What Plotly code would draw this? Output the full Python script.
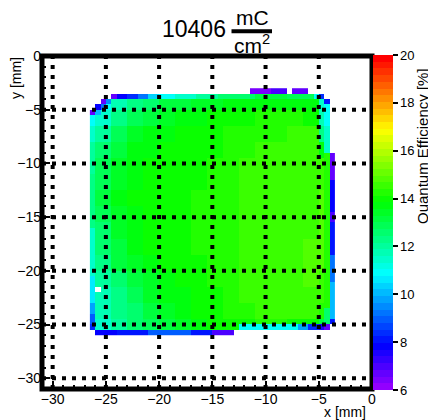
import numpy as np
import plotly.graph_objects as go
import colorsys

# ---------------- data ----------------
charge_value = "10406"
x_ticks = [-30, -25, -20, -15, -10, -5, 0]
y_ticks = [-30, -25, -20, -15, -10, -5, 0]
grid_x = [-30, -25, -20, -15, -10, -5]
grid_y = [-30, -25, -20, -15, -10, -5]
cbar_ticks = [6, 8, 10, 12, 14, 16, 18, 20]

# scan body: 1.5 mm blocks, x from -26.0 to -3.5 (15 cols), rows from y=-3.5 down to -26.0 (15 rows)
body_x0, body_y0, body_step = -26.0, -3.5, 1.5
body = [
    [11.0, 11.7, 12.3, 12.7, 13.0, 13.2, 13.4, 13.5, 13.6, 13.7, 13.8, 13.8, 13.8, 13.7, 11.5],
    [11.5, 12.2, 12.8, 13.2, 13.5, 13.7, 13.8, 13.9, 14.0, 14.1, 14.2, 14.2, 14.2, 14.1, 11.8],
    [12.1, 12.8, 13.3, 13.6, 13.8, 13.9, 14.0, 14.1, 14.2, 14.3, 14.3, 14.3, 14.4, 14.4, 12.3],
    [12.5, 13.2, 13.6, 13.8, 13.9, 14.0, 14.0, 14.1, 14.2, 14.3, 14.4, 14.4, 14.5, 14.5, 13.8],
    [12.8, 13.4, 13.7, 13.9, 14.0, 14.0, 14.1, 14.2, 14.3, 14.4, 14.4, 14.5, 14.5, 14.6, 14.6],
    [12.9, 13.5, 13.8, 13.9, 14.0, 14.1, 14.1, 14.2, 14.3, 14.4, 14.4, 14.5, 14.6, 14.6, 14.6],
    [13.0, 13.6, 13.9, 14.0, 14.0, 14.1, 14.2, 14.2, 14.3, 14.4, 14.5, 14.5, 14.6, 14.6, 14.7],
    [12.9, 13.5, 13.8, 14.0, 14.1, 14.1, 14.2, 14.2, 14.3, 14.4, 14.5, 14.5, 14.6, 14.6, 14.7],
    [12.7, 13.4, 13.8, 13.9, 14.0, 14.1, 14.2, 14.2, 14.3, 14.4, 14.5, 14.5, 14.6, 14.6, 14.7],
    [12.5, 13.2, 13.7, 13.9, 14.0, 14.1, 14.2, 14.2, 14.3, 14.4, 14.5, 14.6, 14.6, 14.7, 14.7],
    [12.3, 13.0, 13.5, 13.8, 13.9, 14.0, 14.1, 14.2, 14.3, 14.4, 14.5, 14.6, 14.6, 14.7, 14.7],
    [12.0, 12.7, 13.2, 13.5, 13.8, 13.9, 14.0, 14.2, 14.3, 14.4, 14.5, 14.6, 14.6, 14.7, 14.6],
    [11.8, 12.4, 12.9, 13.3, 13.6, 13.8, 14.0, 14.1, 14.3, 14.4, 14.5, 14.6, 14.6, 14.6, 14.5],
    [11.7, 12.2, 12.7, 13.1, 13.4, 13.7, 13.9, 14.0, 14.2, 14.3, 14.4, 14.5, 14.5, 14.4, 14.2],
    [11.6, 12.0, 12.5, 12.9, 13.2, 13.5, 13.7, 13.9, 14.0, 14.1, 14.2, 14.2, 14.1, 13.9, 13.2],
]

# edge segments (x0, x1, value) along rows, (y0, y1, value) along columns
top_bars = [(-11.5, -9.5, 6.3), (-9.5, -8.0, 6.9), (-7.5, -6.0, 6.8)]            # y -3.0..-3.5
top_row = [(-24.5, -24.0, 6.8), (-24.0, -23.0, 7.8), (-23.0, -22.0, 8.5), (-22.0, -21.0, 9.3),
           (-21.0, -20.0, 10.2), (-20.0, -18.5, 10.9), (-18.5, -16.5, 11.5), (-16.5, -14.5, 12.0),
           (-14.5, -11.0, 12.6), (-11.0, -8.0, 13.0), (-8.0, -5.5, 12.8), (-5.5, -5.0, 11.0),
           (-5.0, -4.5, 8.3)]                                                     # y -3.5..-4.0
row_m4_0 = [(-26.0, -25.5, None), (-25.5, -25.0, 6.8), (-25.0, -24.5, 9.5), (-4.5, -4.0, 8.0)]  # y -4.0..-4.5
row_m4_5 = [(-26.0, -25.5, 7.8), (-25.5, -25.0, 9.3)]                            # y -4.5..-5.0
row_m5_0 = [(-26.0, -25.5, 10.0)]                                                # y -5.0..-5.5
row_m25_0 = [(-12.5, -7.0, 11.0), (-7.0, -6.0, 9.8), (-6.0, -5.0, 8.5),
             (-5.0, -4.5, 7.5), (-4.5, -4.0, 6.8)]                                # y -25.0..-25.5
bottom_row = [(-26.0, -24.0, 7.8), (-24.0, -21.0, 8.2), (-21.0, -17.0, 8.8),
              (-17.0, -15.0, 8.2), (-15.0, -13.0, 7.0)]                           # y -25.5..-26.0
left_col = [(-5.0, -5.5, 6.8), (-5.5, -6.5, 10.8), (-6.5, -8.0, 11.4), (-8.0, -11.0, 11.9),
            (-11.0, -16.0, 12.2), (-16.0, -20.5, 11.4), (-20.5, -23.0, 10.6),
            (-23.0, -24.0, 9.8), (-24.0, -25.0, 9.0), (-25.0, -25.5, 8.3)]        # x -26.5..-26.0
right_col = [(-4.5, -6.5, 10.8), (-6.5, -9.0, 11.5), (-9.0, -23.5, 14.3), (-23.5, -25.0, 12.5)]  # x -4.5..-4.0
right_strip = [(-9.0, -11.5, 6.6), (-11.5, -14.5, 7.8), (-14.5, -15.5, 7.0), (-15.5, -18.5, 8.0),
               (-18.5, -21.0, 9.3), (-21.0, -24.5, 10.0), (-24.5, -25.0, 8.0)]   # x -4.0..-3.5
missing_cells = [(-25.75, -21.75)]

# ---------------- build 0.5 mm grid ----------------
xc = np.arange(-26.25, -3.5, 0.5)
yc = np.arange(-25.75, -3.0, 0.5)
z = np.full((len(yc), len(xc)), np.nan)


def fill(x0, x1, y0, y1, v):
    ix = (xc > min(x0, x1)) & (xc < max(x0, x1))
    iy = (yc > min(y0, y1)) & (yc < max(y0, y1))
    z[np.ix_(iy, ix)] = np.nan if v is None else v


for r, row in enumerate(body):
    for c, v in enumerate(row):
        fill(body_x0 + c * body_step, body_x0 + (c + 1) * body_step,
             body_y0 - r * body_step, body_y0 - (r + 1) * body_step, v)

fill(-27, -3, -3.5, -4.0, None)
fill(-27, -3, -25.5, -26.0, None)
fill(-4.0, -3.5, -2, -27, None)

for segs, (ya, yb) in [(top_bars, (-3.0, -3.5)), (top_row, (-3.5, -4.0)), (row_m4_0, (-4.0, -4.5)),
                       (row_m4_5, (-4.5, -5.0)), (row_m5_0, (-5.0, -5.5)),
                       (row_m25_0, (-25.0, -25.5)), (bottom_row, (-25.5, -26.0))]:
    for x0, x1, v in segs:
        fill(x0, x1, ya, yb, v)
for segs, (xa, xb) in [(left_col, (-26.5, -26.0)), (right_col, (-4.5, -4.0)), (right_strip, (-4.0, -3.5))]:
    for y0, y1, v in segs:
        fill(xa, xb, y0, y1, v)
for cx, cy in missing_cells:
    fill(cx - 0.25, cx + 0.25, cy - 0.25, cy + 0.25, None)

# ROOT "pretty" palette: 50 colours, hue 280 -> 0
n = 50
cs = []
for i in range(n):
    r_, g_, b_ = colorsys.hls_to_rgb((280 - (i + 1) * 280 / n) / 360, 0.5, 1.0)
    col = f"rgb({round(r_*255)},{round(g_*255)},{round(b_*255)})"
    cs.append([i / n, col])
    cs.append([(i + 1) / n, col])

FONT = "Liberation Sans, Arial, sans-serif"
L, R, T, B = 42, 56, 56, 31
W, H = 428, 420
pw, ph = W - L - R, H - T - B


def px(xp):
    return (xp - L) / pw


def py(yp):
    return (H - B - yp) / ph


fig = go.Figure(go.Heatmap(
    x=xc, y=yc, z=z, colorscale=cs, zmin=6, zmax=20, zsmooth=False, hoverongaps=False,
    colorbar=dict(
        thickness=20, thicknessmode="pixels", len=335, lenmode="pixels",
        x=px(373), xanchor="left", xpad=0, y=py(222.5), yanchor="middle", ypad=0,
        outlinewidth=0, tickvals=cbar_ticks, ticks="outside", ticklen=5, tickwidth=2,
        tickcolor="black", tickfont=dict(family=FONT, size=13, color="black"),
    ),
))

axis_common = dict(
    range=[-31, 0], showgrid=False, zeroline=False, showline=False,
    ticks="inside", ticklen=8, tickwidth=2, tickcolor="black",
    minor=dict(ticks="inside", ticklen=4, tickwidth=2, tickcolor="black", dtick=1),
    tickfont=dict(family=FONT, size=14, color="black"), automargin=False,
)
fig.update_xaxes(tickvals=x_ticks, **axis_common)
fig.update_yaxes(tickvals=y_ticks, **axis_common)

shapes = []
dot = dict(color="black", width=4, dash="4px,6px")
for gx in grid_x:
    shapes.append(dict(type="line", xref="x", yref="paper", x0=gx, x1=gx, y0=0, y1=1, line=dot, layer="above"))
for gy in grid_y:
    shapes.append(dict(type="line", xref="paper", yref="y", x0=0, x1=1, y0=gy, y1=gy, line=dot, layer="above"))
shapes.append(dict(type="rect", xref="paper", yref="paper", x0=0, x1=1, y0=0, y1=1,
                   line=dict(color="black", width=5), layer="above"))
# fraction bar of the title
shapes.append(dict(type="line", xref="paper", yref="paper", x0=px(231.5), x1=px(272), y0=py(31.3), y1=py(31.3),
                   line=dict(color="black", width=4)))

ann = [
    dict(text=charge_value, x=px(194), y=py(28.5), font=dict(size=23)),
    dict(text="mC", x=px(252.5), y=py(17.5), font=dict(size=21)),
    dict(text="cm<sup>2</sup>", x=px(252), y=py(44), font=dict(size=21)),
    dict(text="x [mm]", x=px(368), y=py(412), xanchor="right", font=dict(size=14)),
    dict(text="y [mm]", x=px(16), y=py(78), textangle=-90, font=dict(size=14)),
    dict(text="Quantum Efficiency [%]", x=px(422), y=py(146), textangle=-90, font=dict(size=15)),
]
annotations = []
for a in ann:
    base = dict(xref="paper", yref="paper", showarrow=False, xanchor="center", yanchor="middle")
    base.update(a)
    base["font"] = dict(family=FONT, color="black", **a["font"])
    annotations.append(base)

fig.update_layout(
    width=W, height=H, margin=dict(l=L, r=R, t=T, b=B, autoexpand=False),
    paper_bgcolor="white", plot_bgcolor="white", shapes=shapes, annotations=annotations,
    showlegend=False,
)
fig.write_html("out.html")
